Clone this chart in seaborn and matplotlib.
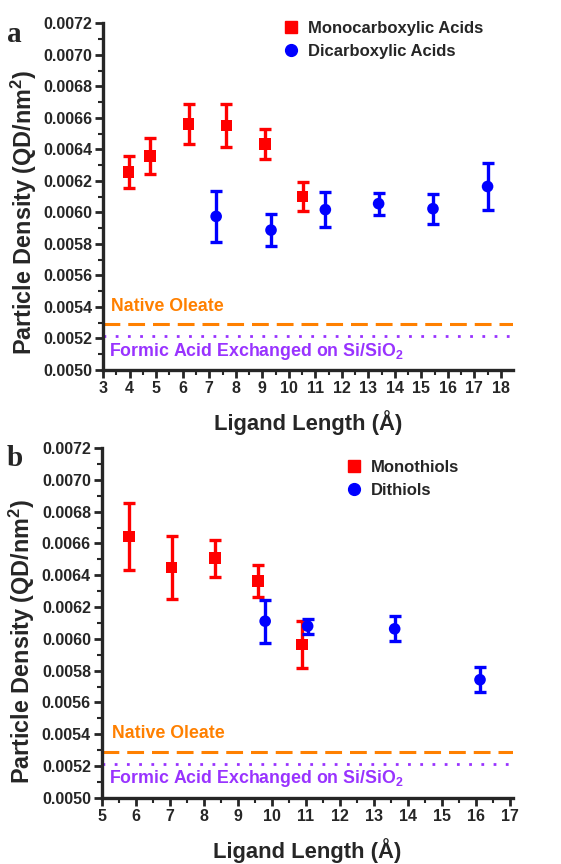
import numpy as np
import pandas as pd
import matplotlib
matplotlib.use("Agg")
import matplotlib.pyplot as plt
import seaborn as sns
from matplotlib.ticker import MultipleLocator, FormatStrFormatter
from matplotlib.lines import Line2D

# panel a - carboxylic acids
mono_acid_x = [3.96, 4.76, 6.22, 7.65, 9.11, 10.52]
mono_acid_y = [0.006255, 0.006358, 0.00656, 0.006552, 0.006432, 0.0061]
mono_acid_err = [0.0001, 0.000115, 0.000125, 0.000137, 0.000095, 0.00009]
di_acid_x = [7.26, 9.33, 11.38, 13.39, 15.44, 17.50]
di_acid_y = [0.005974, 0.005887, 0.006017, 0.006055, 0.006023, 0.006164]
di_acid_err = [0.00016, 0.0001, 0.00011, 0.00007, 0.000095, 0.00015]

# panel b - thiols
mono_thiol_x = [5.80, 7.05, 8.33, 9.59, 10.88]
mono_thiol_y = [0.006644, 0.006448, 0.006507, 0.006362, 0.005964]
mono_thiol_err = [0.00021, 0.0002, 0.000115, 0.0001, 0.00015]
di_thiol_x = [9.80, 11.05, 13.61, 16.12]
di_thiol_y = [0.006111, 0.00608, 0.006063, 0.005743]
di_thiol_err = [0.000135, 0.000047, 0.000078, 0.00008]

oleate_level = 0.00529
formic_level = 0.005216

sns.set_style("ticks")
plt.rcParams['font.family'] = ['Liberation Sans', 'DejaVu Sans']
plt.rcParams['font.weight'] = 'bold'
plt.rcParams['mathtext.fontset'] = 'custom'
plt.rcParams['mathtext.rm'] = 'Liberation Sans:bold'
plt.rcParams['mathtext.bf'] = 'Liberation Sans:bold'
plt.rcParams['mathtext.default'] = 'rm'

RED = '#ff0000'
BLUE = '#0000ff'


def panel(ax, x1, y1, e1, lab1, x2, y2, e2, lab2, xlim, xticks, letter, leg_anchor, ylab_y):
    df = pd.DataFrame({
        'x': x1 + x2,
        'y': y1 + y2,
        'err': e1 + e2,
        'grp': [lab1] * len(x1) + [lab2] * len(x2),
    })
    for g, c in [(lab1, RED), (lab2, BLUE)]:
        d = df[df.grp == g]
        ax.errorbar(d.x, d.y, yerr=d.err, fmt='none', ecolor=c, elinewidth=2.4,
                    capsize=4.2, capthick=2.4, zorder=2)
    sns.scatterplot(data=df, x='x', y='y', hue='grp', style='grp',
                    palette={lab1: RED, lab2: BLUE}, markers={lab1: 's', lab2: 'o'},
                    s=70, edgecolor='none', legend=False, ax=ax, zorder=3)

    ax.axhline(oleate_level, color='#ff8000', ls=(0, (5.5, 2.6)), lw=2.2)
    ax.axhline(formic_level, color='#9933ff', ls=(0, (1, 3.4)), lw=2)
    ax.text(xlim[0] + 0.28, oleate_level + 0.00006, 'Native Oleate', color='#ff8000',
            fontsize=12.8, fontweight='bold', va='bottom')
    ax.text(xlim[0] + 0.2, formic_level - 0.00003, r'Formic Acid Exchanged on Si/SiO$_2$',
            color='#9933ff', fontsize=12.8, fontweight='bold', va='top')

    ax.set_xlim(*xlim)
    ax.set_ylim(0.0050, 0.0072)
    ax.set_xticks(xticks)
    ax.xaxis.set_minor_locator(MultipleLocator(0.5))
    ax.yaxis.set_major_locator(MultipleLocator(0.0002))
    ax.yaxis.set_minor_locator(MultipleLocator(0.0001))
    ax.yaxis.set_major_formatter(FormatStrFormatter('%.4f'))
    ax.tick_params(which='major', direction='out', length=6, width=2, labelsize=11.5, pad=2)
    ax.tick_params(which='minor', direction='out', length=3.5, width=1.5)
    for s in ['left', 'bottom']:
        ax.spines[s].set_linewidth(2.4)
    sns.despine(ax=ax)
    for t in ax.get_xticklabels() + ax.get_yticklabels():
        t.set_fontweight('bold')

    ax.set_xlabel('Ligand Length (Å)', fontsize=15.8, fontweight='bold', labelpad=10)
    ax.set_ylabel(r'Particle Density (QD/nm$^2$)', fontsize=16.8, fontweight='bold')
    ax.yaxis.set_label_coords(-0.157, ylab_y)

    handles = [
        Line2D([], [], marker='s', color=RED, ls='none', markersize=8),
        Line2D([], [], marker='o', color=BLUE, ls='none', markersize=8.5),
    ]
    ax.legend(handles, [lab1, lab2], loc='upper left', bbox_to_anchor=leg_anchor,
              frameon=False, handletextpad=0.2, labelspacing=0.45, handlelength=1.6,
              prop={'weight': 'bold', 'size': 12})
    pos = ax.get_position()
    ax.figure.text(0.012, pos.y1 + 0.003, letter, fontsize=21,
                   fontweight='bold', family=['Liberation Serif', 'DejaVu Serif'], va='top')


fig = plt.figure(figsize=(5.61, 8.64), dpi=100)
ax1 = fig.add_axes([0.184, 0.572, 0.73, 0.401])
ax2 = fig.add_axes([0.1818, 0.0765, 0.7326, 0.405])

panel(ax1, mono_acid_x, mono_acid_y, mono_acid_err, 'Monocarboxylic Acids',
      di_acid_x, di_acid_y, di_acid_err, 'Dicarboxylic Acids',
      (3, 18.45), list(range(3, 19)), 'a', (0.39, 1.05), 0.455)
panel(ax2, mono_thiol_x, mono_thiol_y, mono_thiol_err, 'Monothiols',
      di_thiol_x, di_thiol_y, di_thiol_err, 'Dithiols',
      (5, 17.09), list(range(5, 18)), 'b', (0.545, 1.008), 0.446)

fig.savefig('out.png', dpi=100)
